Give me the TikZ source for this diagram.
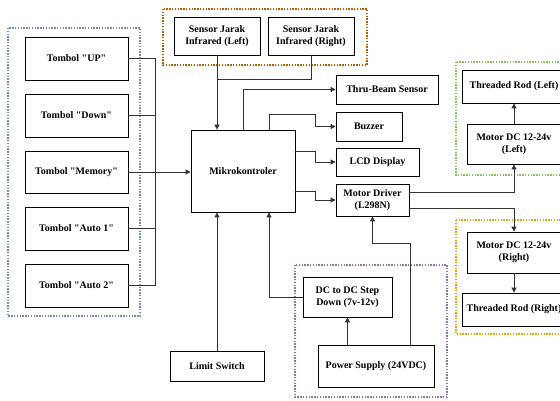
\documentclass[tikz,border=0pt]{standalone}
\usepackage{fontspec}
\setmainfont{Liberation Serif}
\usetikzlibrary{arrows.meta}
\definecolor{fblue}{HTML}{6C8EBF}
\definecolor{forange}{HTML}{B85C00}
\definecolor{fgreen}{HTML}{82C35A}
\definecolor{fyellow}{HTML}{E3A600}
\definecolor{fpurple}{HTML}{9673A6}
\definecolor{wire}{HTML}{333333}
\tikzset{
  blk/.style={draw=black, line width=0.8pt, fill=white, inner sep=0pt, align=center,
    font=\fontsize{10}{12}\selectfont\bfseries},
  frame/.style={line width=2pt, dash pattern=on 1.4pt off 1.4pt},
  wr/.style={draw=wire, line width=0.8pt},
  arr/.style={wr, -{Triangle[length=5pt,width=5pt]}}
}
\begin{document}
\begin{tikzpicture}[x=1pt,y=-1pt]
\clip (0,0) rectangle (560,401);
\fill[white] (0,0) rectangle (560,401);
% frames
\draw[frame, fblue] (8,28) rectangle (140,316);
\draw[frame, forange] (163,9) rectangle (367,65);
\draw[frame, fgreen] (456,62) rectangle (575,175);
\draw[frame, fyellow] (456,220) rectangle (575,334);
\draw[frame, fpurple] (295,265) rectangle (447,397);
% nodes
\node[blk, minimum width=103, minimum height=43] (up) at (76.5,58.5) {Tombol \textquotedbl UP\textquotedbl};
\node[blk, minimum width=103, minimum height=43] (down) at (76.5,115.5) {Tombol \textquotedbl Down\textquotedbl};
\node[blk, minimum width=103, minimum height=42] (mem) at (76.5,172) {Tombol \textquotedbl Memory\textquotedbl};
\node[blk, minimum width=103, minimum height=43] (a1) at (76.5,228.5) {Tombol \textquotedbl Auto 1\textquotedbl};
\node[blk, minimum width=103, minimum height=43] (a2) at (76.5,285.5) {Tombol \textquotedbl Auto 2\textquotedbl};
\node[blk, minimum width=104, minimum height=82] (mcu) at (243,171) {Mikrokontroler};
\node[blk, minimum width=86, minimum height=38] (sl) at (217,36) {Sensor Jarak\\Infrared (Left)};
\node[blk, minimum width=86, minimum height=38] (sr) at (311,36) {Sensor Jarak\\Infrared (Right)};
\node[blk, minimum width=102, minimum height=29] (thru) at (387,89.5) {Thru-Beam Sensor};
\node[blk, minimum width=66, minimum height=29] (buz) at (369,126.5) {Buzzer};
\node[blk, minimum width=83, minimum height=28] (lcd) at (377.5,162) {LCD Display};
\node[blk, minimum width=73, minimum height=32] (md) at (372.5,200) {Motor Driver\\(L298N)};
\node[blk, minimum width=104, minimum height=33] (trl) at (514,86.5) {Threaded Rod (Left)};
\node[blk, minimum width=94, minimum height=40] (mdl) at (514,144) {Motor DC 12-24v\\(Left)};
\node[blk, minimum width=94, minimum height=41] (mdr) at (514,252.5) {Motor DC 12-24v\\(Right)};
\node[blk, minimum width=104, minimum height=33] (trr) at (514,309.5) {Threaded Rod (Right)};
\node[blk, minimum width=94, minimum height=30] (ls) at (217,366) {Limit Switch};
\node[blk, minimum width=89, minimum height=40] (dc) at (347.5,297) {DC to DC Step\\Down (7v-12v)};
\node[blk, minimum width=116, minimum height=42] (ps) at (376,366) {Power Supply (24VDC)};
% connectors
\coordinate (busT) at (155,58.5);
\coordinate (busB) at (155,285.5);
\draw[wr] (up.east) -- (busT) -- (busB) -- (a2.east);
\draw[wr] (down.east) -- (down.east -| busT);
\draw[wr] (a1.east) -- (a1.east -| busT);
\draw[arr] (mem.east) -- (mem.east -| mcu.west);
\coordinate (sj) at (217,79);
\draw[arr] (sl.south) -- (sl.south |- mcu.north);
\draw[wr] (sr.south) |- (sj);
\draw[arr] (mcu.north) |- (thru.west);
\coordinate (bz1) at (315,114);
\draw[arr] ([xshift=26pt]mcu.north) |- (bz1) |- (buz.west);
\coordinate (lc1) at (315,151);
\draw[arr] (mcu.east |- lc1) -- (lc1) |- (lcd.west);
\coordinate (md1) at (315,191);
\draw[arr] (mcu.east |- md1) -- (md1) |- (md.west);
\coordinate (ml) at (514,192);
\coordinate (mr) at (514,208);
\draw[arr] (md.east |- ml) -- (ml) -- (mdl.south);
\draw[arr] (md.east |- mr) -- (mr) -- (mdr.north);
\draw[arr] (mdl.north) -- (trl.south);
\draw[arr] (mdr.south) -- (trr.north);
\draw[arr] (ls.north) -- (ls.north |- mcu.south);
\coordinate (dcl) at (269,297);
\draw[arr] (dc.west) -- (dcl) -- (dcl |- mcu.south);
\draw[arr] (dc.south |- ps.north) -- (dc.south);
\coordinate (pm) at (410,243);
\draw[arr] (pm |- ps.north) -- (pm) -| (md.south);
\end{tikzpicture}
\end{document}
